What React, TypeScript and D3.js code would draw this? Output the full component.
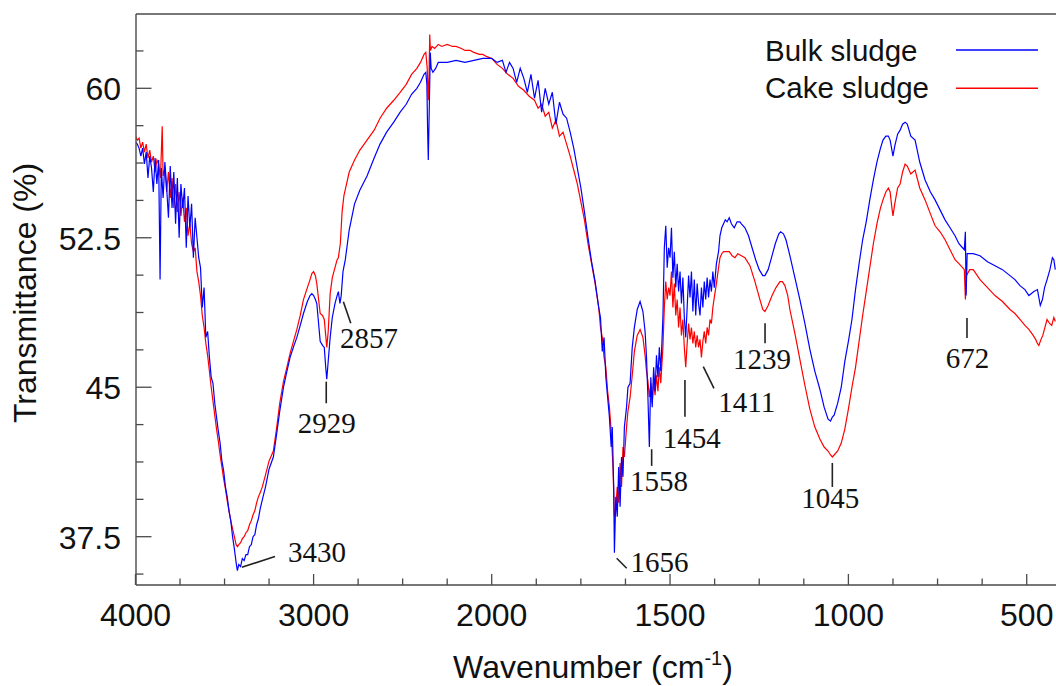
import React from "react";
import * as d3 from "d3";

// ---------- data ----------
const seriesNames = ["Bulk sludge", "Cake sludge"];
const seriesColors = ["#0000ff", "#ff0000"];

const bulkSludge: [number, number][] = [
  [4000,57.3],[3990,57.2],[3980,57.0],[3970,56.6],[3960,57.0],[3950,56.2],[3940,56.8],[3930,55.5],[3920,56.6],[3910,56.0],
  [3900,54.8],[3890,56.5],[3880,55.2],[3870,56.4],[3862,50.4],[3855,56.0],[3845,54.5],[3835,56.3],[3825,55.0],[3815,53.5],
  [3805,56.1],[3795,54.0],[3785,55.8],[3775,53.2],[3765,55.5],[3755,52.5],[3745,55.2],[3735,54.0],[3725,55.0],[3715,52.0],
  [3705,54.6],[3695,53.0],[3685,54.2],[3675,51.5],[3665,53.5],[3655,52.5],[3645,51.5],[3635,51.0],[3625,49.0],[3615,50.0],
  [3605,47.5],[3595,47.8],[3585,46.5],[3575,45.5],[3565,45.2],[3555,44.2],[3545,43.5],[3535,42.8],[3525,42.2],[3515,41.3],
  [3505,40.8],[3495,40.0],[3485,39.5],[3475,38.8],[3465,38.3],[3455,37.5],[3445,36.9],[3435,36.2],[3428,35.8],[3420,36.1],
  [3410,36.0],[3400,36.4],[3390,36.3],[3380,36.6],[3370,36.6],[3360,37.0],[3350,37.1],[3340,37.5],[3330,37.6],[3320,38.1],
  [3310,38.4],[3300,38.9],[3288,39.35],[3270,40.0],[3250,40.9],[3226,41.5],[3210,42.5],[3190,43.8],[3169,45.0],[3150,45.8],
  [3132,46.5],[3110,47.1],[3094,47.5],[3075,48.1],[3057,48.7],[3035,49.3],[3020,49.6],[3010,49.7],[3000,49.6],[2990,49.4],
  [2982,49.2],[2972,48.2],[2963,47.3],[2950,47.1],[2940,47.0],[2932,46.0],[2926,45.4],[2918,46.3],[2907,47.5],[2895,48.5],
  [2880,49.2],[2868,49.6],[2861,49.8],[2852,49.2],[2845,49.6],[2835,50.8],[2822,51.4],[2800,52.9],[2770,54.2],[2740,54.9],
  [2700,55.6],[2660,56.5],[2627,57.2],[2590,57.8],[2550,58.3],[2514,58.8],[2480,59.2],[2450,59.7],[2420,60.0],[2400,60.3],
  [2380,60.7],[2370,60.8],[2364,60.2],[2360,58.0],[2356,56.4],[2352,58.3],[2348,60.2],[2345,61.8],[2340,61.0],[2330,60.8],
  [2315,61.0],[2300,61.3],[2250,61.3],[2200,61.4],[2150,61.3],[2100,61.4],[2050,61.5],[2000,61.5],
  [1985,61.3],[1970,61.4],[1960,60.8],[1950,61.3],[1940,61.0],[1930,60.3],[1920,61.0],[1910,60.5],[1900,59.8],[1890,60.7],
  [1880,59.5],[1870,60.4],[1860,58.8],[1850,60.0],[1840,59.2],[1830,59.8],[1820,58.2],[1810,59.3],[1800,58.7],[1790,58.5],
  [1780,57.8],[1770,57.0],[1760,56.0],[1750,55.0],[1740,53.8],[1730,52.5],[1720,51.3],[1710,50.3],[1700,49.0],[1695,48.5],
  [1690,46.8],[1685,47.5],[1680,45.5],[1675,44.5],[1670,43.5],[1665,42.0],[1662,43.0],[1658,40.0],[1656,36.7],[1652,39.5],
  [1648,38.5],[1644,41.0],[1640,39.0],[1636,41.5],[1632,40.5],[1628,43.0],[1622,44.0],[1618,45.0],[1612,45.2],[1606,47.0],
  [1600,48.0],[1592,48.9],[1584,49.3],[1576,48.8],[1570,47.8],[1566,46.5],[1562,44.5],[1558,42.0],[1554,45.5],[1550,44.0],
  [1546,46.0],[1542,44.8],[1538,46.6],[1534,45.5],[1530,47.0],[1526,45.8],[1520,48.5],[1516,52.0],[1512,53.1],[1508,51.0],
  [1504,52.0],[1500,51.5],[1496,53.0],[1492,50.5],[1488,51.8],[1484,50.0],[1480,51.2],[1476,49.8],[1472,50.8],[1468,49.2],
  [1464,50.5],[1460,48.5],[1456,47.5],[1452,49.0],[1448,50.6],[1444,49.5],[1440,50.8],[1436,48.8],[1432,50.4],[1428,48.6],
  [1424,50.2],[1420,49.2],[1416,48.6],[1412,50.0],[1408,49.0],[1404,50.3],[1400,49.4],[1396,50.5],[1392,49.5],[1388,50.4],
  [1384,49.8],[1380,50.8],[1376,50.0],[1370,51.2],[1364,51.8],[1360,52.6],[1355,53.0],[1350,53.2],[1345,53.4],[1340,53.3],
  [1334,53.5],[1328,53.2],[1320,53.0],[1312,53.3],[1304,53.3],[1300,53.2],[1290,53.0],[1280,52.6],[1270,52.0],[1260,51.4],
  [1250,50.9],[1240,50.6],[1234,50.6],[1225,50.9],[1214,51.6],[1205,52.2],[1195,52.7],[1190,52.8],[1182,52.7],[1175,52.4],
  [1164,51.6],[1150,50.5],[1136,49.4],[1122,48.2],[1108,46.9],[1094,45.8],[1080,44.9],[1068,44.0],[1057,43.4],[1050,43.3],
  [1045,43.5],[1040,43.6],[1030,44.2],[1020,45.0],[1010,46.3],[1000,47.3],[990,48.4],[980,49.9],[970,51.2],[960,52.4],
  [950,53.3],[940,54.4],[930,55.4],[920,56.3],[910,57.0],[903,57.4],[895,57.6],[888,57.6],[883,57.4],[878,56.9],
  [875,56.6],[870,57.1],[862,57.7],[855,57.9],[848,58.2],[841,58.3],[835,58.2],[825,57.6],[813,57.4],[800,56.3],
  [785,55.4],[770,54.8],[757,54.4],[743,53.9],[729,53.4],[715,53.0],[701,52.6],[690,52.2],[680,52.0],[675,51.9],
  [672,52.8],[670,49.6],[667,51.7],[650,51.7],[631,51.6],[610,51.3],[589,51.1],[568,50.9],[547,50.6],[533,50.4],
  [519,50.1],[505,49.9],[494,49.6],[480,49.8],[470,49.9],[462,49.1],[456,49.4],[450,50.0],[443,50.4],[435,50.9],
  [428,51.5],[424,51.4],[420,50.9],
];

const cakeSludge: [number, number][] = [
  [4000,57.6],[3990,57.4],[3980,57.5],[3970,57.0],[3960,57.3],[3950,56.8],[3940,57.2],[3930,56.5],[3920,56.9],[3910,56.3],
  [3900,56.6],[3890,55.8],[3880,56.4],[3870,56.2],[3860,55.5],[3850,58.1],[3845,55.6],[3835,56.0],[3825,54.8],[3815,55.8],
  [3805,54.5],[3795,55.5],[3785,54.0],[3775,55.2],[3765,53.8],[3755,54.8],[3745,53.6],[3735,54.5],[3725,53.3],[3715,54.0],
  [3705,52.6],[3695,53.2],[3685,52.2],[3675,51.8],[3665,52.0],[3655,50.8],[3645,50.3],[3635,49.6],[3625,48.6],[3615,48.0],
  [3605,47.2],[3595,46.6],[3585,45.8],[3575,45.0],[3565,44.3],[3555,43.6],[3545,42.9],[3535,42.3],[3525,41.6],[3515,41.0],
  [3505,40.4],[3495,39.9],[3485,39.3],[3475,38.8],[3465,38.3],[3455,37.9],[3445,37.5],[3435,37.1],[3428,37.0],[3420,37.1],
  [3410,37.2],[3400,37.4],[3390,37.5],[3380,37.7],[3370,37.8],[3360,38.1],[3350,38.3],[3340,38.6],[3330,38.8],[3320,39.2],
  [3310,39.5],[3300,39.7],[3288,40.0],[3270,40.6],[3250,41.3],[3226,41.8],[3210,42.8],[3190,44.2],[3169,45.3],[3150,46.0],
  [3132,46.7],[3110,47.4],[3094,47.9],[3075,48.6],[3057,49.4],[3035,50.0],[3020,50.4],[3010,50.7],[3000,50.8],[2990,50.6],
  [2982,50.2],[2972,49.4],[2963,48.7],[2950,48.6],[2940,48.4],[2932,47.6],[2926,47.0],[2918,47.8],[2907,49.7],[2895,50.5],
  [2880,51.0],[2868,51.4],[2861,51.5],[2850,52.2],[2840,53.8],[2830,54.6],[2820,55.0],[2800,55.8],[2770,56.4],[2740,56.9],
  [2700,57.4],[2660,57.9],[2627,58.5],[2590,59.0],[2550,59.4],[2514,59.8],[2480,60.2],[2450,60.7],[2420,61.0],[2400,61.3],
  [2380,61.7],[2370,61.8],[2362,61.0],[2356,59.4],[2352,60.5],[2348,62.7],[2344,61.9],[2335,62.1],[2320,62.0],[2300,62.2],
  [2280,62.1],[2250,62.2],[2220,62.1],[2200,62.1],[2170,62.0],[2150,61.9],[2120,61.9],[2100,61.8],[2070,61.7],[2050,61.7],
  [2030,61.6],[2000,61.5],
  [1985,61.2],[1970,61.0],[1955,60.7],[1940,60.5],[1925,60.1],[1910,59.9],[1895,59.6],[1880,59.4],[1870,59.0],[1860,59.2],
  [1850,58.6],[1840,58.8],[1830,58.0],[1820,58.4],[1810,57.6],[1800,57.8],[1790,57.2],[1780,56.6],[1770,55.9],[1760,55.2],
  [1750,54.3],[1740,53.4],[1730,52.2],[1720,51.2],[1710,50.2],[1700,49.0],[1695,48.0],[1690,47.5],[1685,46.5],[1680,46.0],
  [1675,44.8],[1670,44.0],[1665,42.8],[1660,41.0],[1656,38.5],[1652,39.0],[1648,40.0],[1644,39.2],[1640,41.2],[1636,40.0],
  [1632,42.0],[1628,41.5],[1622,43.0],[1618,43.8],[1612,44.5],[1606,45.6],[1600,46.8],[1592,47.6],[1584,47.9],[1576,47.5],
  [1570,46.6],[1566,45.8],[1562,45.3],[1558,44.5],[1554,45.2],[1550,44.2],[1546,45.3],[1542,44.6],[1538,45.6],[1534,44.8],
  [1530,46.0],[1526,45.2],[1520,47.0],[1516,49.0],[1512,50.3],[1508,49.4],[1504,50.0],[1500,49.6],[1496,50.8],[1492,49.0],
  [1488,50.2],[1484,48.6],[1480,49.4],[1476,48.0],[1472,49.0],[1468,47.6],[1464,48.4],[1460,47.0],[1456,46.0],[1452,47.2],
  [1448,48.2],[1444,47.4],[1440,48.0],[1436,47.2],[1432,47.8],[1428,47.0],[1424,47.6],[1420,47.0],[1416,47.4],[1412,46.5],
  [1408,47.3],[1404,47.8],[1400,47.2],[1396,48.0],[1392,47.6],[1388,48.4],[1384,48.2],[1380,49.0],[1376,49.5],[1370,50.2],
  [1364,51.0],[1360,51.5],[1355,51.7],[1350,51.8],[1340,51.8],[1334,51.8],[1326,51.6],[1318,51.5],[1310,51.7],[1300,51.6],
  [1290,51.5],[1276,51.1],[1262,50.3],[1248,49.4],[1240,48.9],[1234,48.8],[1225,49.1],[1214,49.6],[1203,50.0],[1192,50.3],
  [1185,50.3],[1178,50.1],[1170,49.6],[1164,48.9],[1150,47.7],[1136,46.4],[1122,45.1],[1108,43.9],[1094,43.0],[1080,42.4],
  [1068,42.0],[1057,41.8],[1050,41.6],[1045,41.5],[1040,41.6],[1030,41.8],[1020,42.2],[1010,42.9],[1000,43.9],[990,45.0],
  [980,46.0],[970,47.3],[960,48.6],[950,49.8],[940,51.0],[930,52.2],[920,53.2],[910,54.0],[903,54.4],[895,54.8],
  [888,55.0],[883,54.8],[878,54.0],[875,53.6],[870,54.2],[862,55.0],[855,55.2],[848,55.8],[841,56.2],[835,56.1],
  [825,55.7],[813,55.9],[800,55.0],[785,54.4],[770,53.7],[757,53.1],[743,52.8],[729,52.4],[715,51.9],[701,51.4],
  [690,51.2],[680,51.0],[675,50.9],[672,49.4],[669,50.6],[660,50.9],[650,50.9],[631,50.4],[610,50.0],[589,49.6],
  [568,49.3],[547,48.9],[533,48.7],[519,48.4],[505,48.1],[494,47.9],[482,47.6],[475,47.4],[470,47.2],[466,47.1],
  [460,47.4],[455,47.6],[449,48.0],[443,48.4],[436,48.2],[430,48.1],[424,48.5],[420,48.3],
];

const xMajorTicks = [4000, 3000, 2000, 1500, 1000, 500];
const xMinorTicks = [3750, 3500, 3250, 2750, 2500, 2250, 1875, 1750, 1625, 1375, 1250, 1125, 875, 750, 625];
const yMajorTicks = [37.5, 45, 52.5, 60];
const yMinorTicks = [35.625, 39.375, 41.25, 43.125, 46.875, 48.75, 50.625, 54.375, 56.25, 58.125, 61.875];

// annotated peaks: label wavenumber and transmittance at the leader tip
const peakLabels = ["3430", "2929", "2857", "1656", "1558", "1454", "1411", "1239", "1045", "672"];
const peakTips = [35.97, 45.28, 49.29, 36.42, 41.89, 45.36, 46.03, 48.21, 41.2, 48.47];
// layout offsets (px) relative to (x(wn), y(tip)): leader start dx, leader end dx/dy, text dx/dy
const peakLayout = [
  { a: 4.8, bx: 38, by: -10.6, tx: 80, ty: -5.6 },
  { a: 0, bx: 0, by: 21.6, tx: 0.6, ty: 51.3 },
  { a: 4.3, bx: 11.7, by: 21.6, tx: 30, ty: 46.3 },
  { a: 2.3, bx: 12.3, by: 10, tx: 45, ty: 13.4 },
  { a: 2.3, bx: 2.3, by: 16.7, tx: 9.6, ty: 41.4 },
  { a: -1.5, bx: -1.5, by: 36.7, tx: 5.2, ty: 68.3 },
  { a: 1.5, bx: 12.2, by: 21.6, tx: 45, ty: 45 },
  { a: 1.9, bx: 1.9, by: 20, tx: -1.1, ty: 46 },
  { a: 0, bx: 0, by: 24, tx: -2, ty: 45 },
  { a: 1.6, bx: 1.6, by: 20, tx: 2, ty: 50 },
];

export default function App() {
  const W = 1056, H = 686;
  const left = 136, top = 14, bottom = 585, right = 1056;
  const x = d3.scaleLinear().domain([4000, 2000, 400]).range([135.5, 491.7, 1062.4]);
  const y = d3.scaleLinear().domain([37.5, 60]).range([536.7, 88.3]);
  const line = d3.line<[number, number]>().x((d) => x(d[0])).y((d) => y(d[1]));
  const sans = "'Liberation Sans', Arial, Helvetica, sans-serif";
  const serif = "'Liberation Serif', 'Times New Roman', Times, serif";
  const axisColor = "#4a4a4a";
  const series = [bulkSludge, cakeSludge];

  return (
    <svg width={W} height={H} style={{ position: "absolute", left: 0, top: 0, background: "#fff" }}>
      <defs>
        <clipPath id="plot">
          <rect x={left} y={top} width={right - left} height={bottom - top} />
        </clipPath>
      </defs>
      <g clipPath="url(#plot)">
        <path d={line(cakeSludge) || ""} fill="none" stroke={seriesColors[1]} strokeWidth={1.2} />
        <path d={line(bulkSludge) || ""} fill="none" stroke={seriesColors[0]} strokeWidth={1.2} />
      </g>
      {/* frame */}
      <line x1={left} x2={right} y1={top} y2={top} stroke={axisColor} strokeWidth={1.4} />
      <line x1={left} x2={left} y1={top} y2={bottom} stroke={axisColor} strokeWidth={1.4} />
      <line x1={left} x2={right} y1={bottom} y2={bottom} stroke={axisColor} strokeWidth={1.4} />
      {/* y ticks */}
      {yMajorTicks.map((t) => (
        <g key={"ym" + t}>
          <line x1={left} x2={left + 15.5} y1={y(t)} y2={y(t)} stroke={axisColor} strokeWidth={1.3} />
          <text x={121} y={y(t) + 12} textAnchor="end" fontFamily={sans} fontSize={32} fill="#111">{t}</text>
        </g>
      ))}
      {yMinorTicks.map((t) => (
        <line key={"yn" + t} x1={left} x2={left + 7.5} y1={y(t)} y2={y(t)} stroke={axisColor} strokeWidth={1.3} />
      ))}
      {/* x ticks */}
      {xMajorTicks.map((t) => (
        <g key={"xm" + t}>
          <line x1={x(t)} x2={x(t)} y1={bottom} y2={bottom - 11} stroke={axisColor} strokeWidth={1.3} />
          <text x={x(t)} y={626} textAnchor="middle" fontFamily={sans} fontSize={32} fill="#111">{t}</text>
        </g>
      ))}
      {xMinorTicks.map((t) => (
        <line key={"xn" + t} x1={x(t)} x2={x(t)} y1={bottom} y2={bottom - 6.5} stroke={axisColor} strokeWidth={1.3} />
      ))}
      {/* axis titles */}
      <text x={593} y={678} textAnchor="middle" fontFamily={sans} fontSize={32} fill="#111">
        Wavenumber (cm<tspan fontSize={20} dy={-13}>-1</tspan><tspan dy={13}>)</tspan>
      </text>
      <text transform="translate(36,293) rotate(-90)" textAnchor="middle" fontFamily={sans} fontSize={32} fill="#111">
        Transmittance (%)
      </text>
      {/* annotations */}
      {peakLabels.map((lab, i) => {
        const px = x(+lab);
        const py = y(peakTips[i]);
        const L = peakLayout[i];
        const anchorStart = i === 0 || i === 2 || i === 3 || i === 6;
        return (
          <g key={"pk" + lab}>
            <line x1={px + L.a} y1={py} x2={px + L.bx} y2={py + L.by} stroke="#222" strokeWidth={1.6} />
            <text x={px + L.tx} y={py + L.ty} textAnchor="middle" fontFamily={serif} fontSize={29} fill="#111">
              {lab}
            </text>
          </g>
        );
      })}
      {/* legend */}
      {seriesNames.map((n, i) => (
        <g key={n}>
          <text x={765} y={60.5 + i * 37.5} fontFamily={sans} fontSize={29.5} fill="#111">{n}</text>
          <line x1={956} x2={1038} y1={50 + i * 38.3} y2={50 + i * 38.3} stroke={seriesColors[i]} strokeWidth={1.4} />
        </g>
      ))}
    </svg>
  );
}
